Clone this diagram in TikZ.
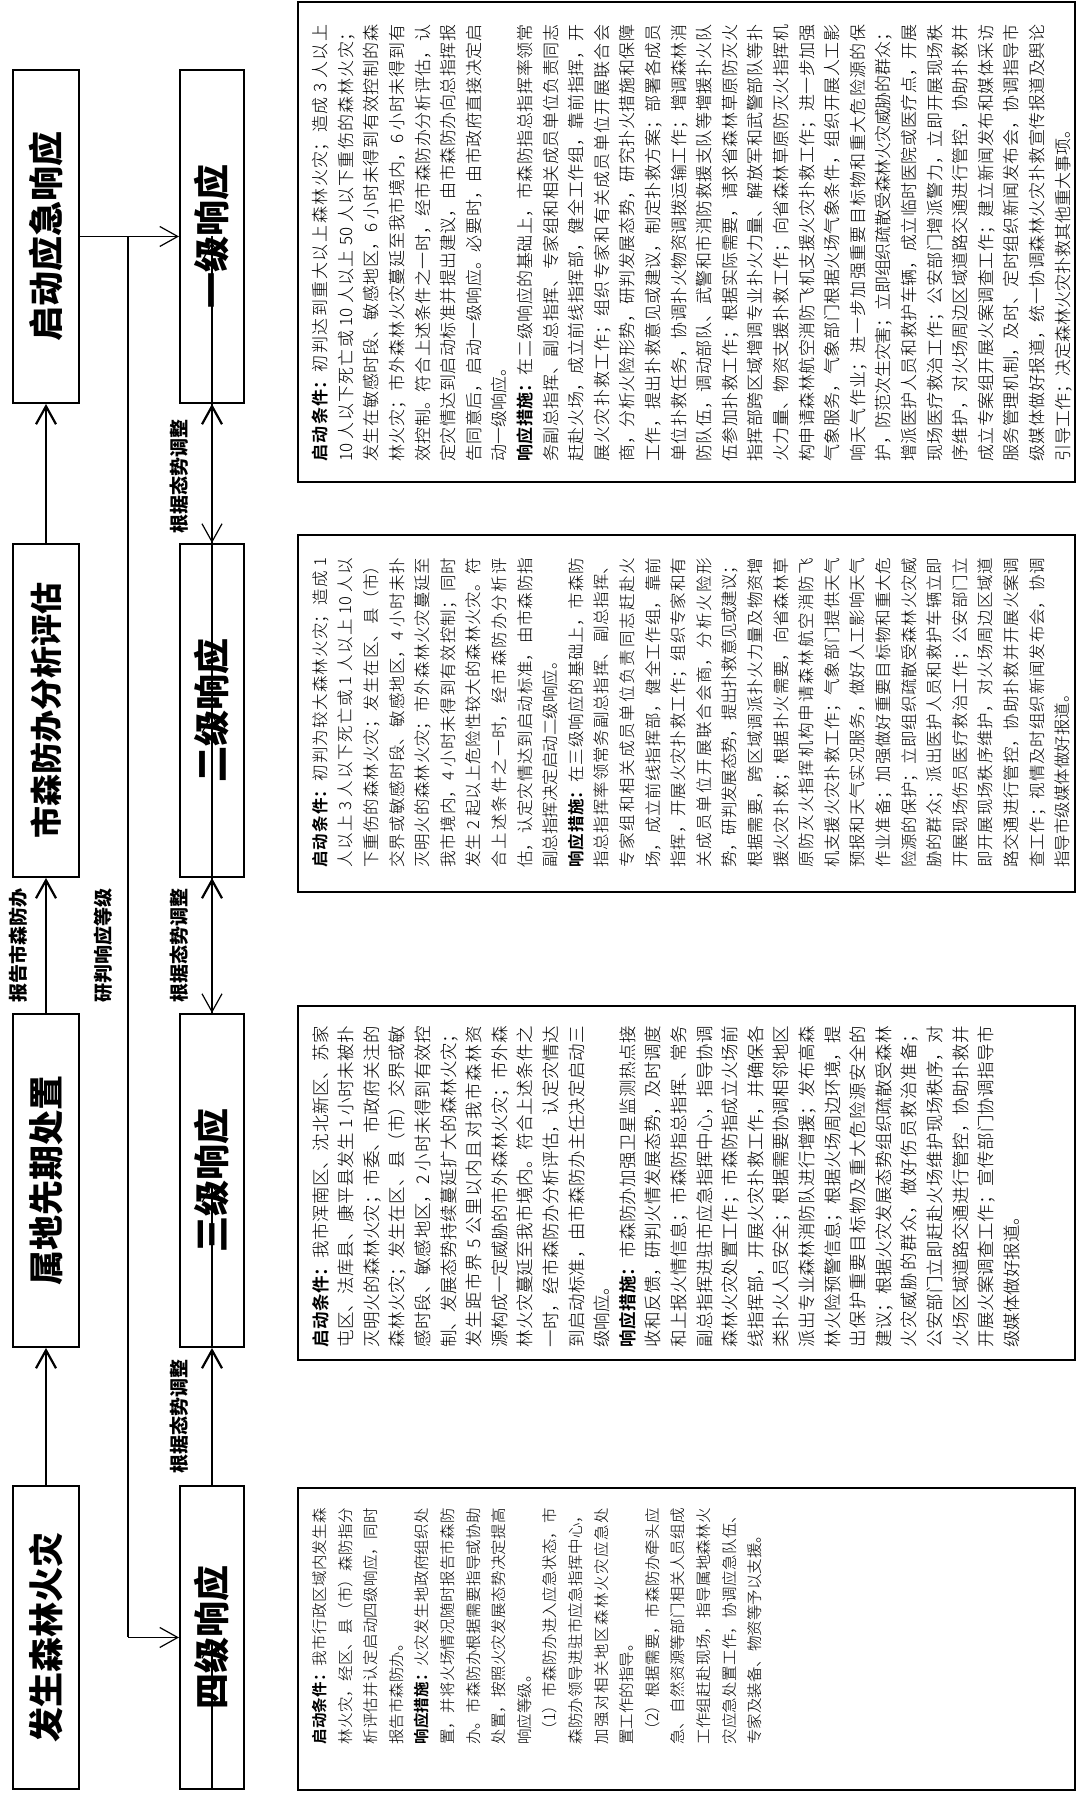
\documentclass[tikz,border=0pt]{standalone}
\usepackage{fontspec}
\usetikzlibrary{arrows.meta}
\setmainfont{Noto Sans CJK SC}
\newfontfamily\thincjk{Noto Sans CJK SC Light}[BoldFont={Noto Sans CJK SC Bold}]
\XeTeXlinebreaklocale "zh"
\XeTeXlinebreakskip=0pt plus 3pt minus 0.5pt
\setlength{\parindent}{0pt}

\begin{document}
\begin{tikzpicture}[x=1pt,y=-1pt,rotate=90,transform shape,
  stage/.style={draw,line width=2pt,inner sep=0pt,minimum width=333pt,minimum height=66pt,font=\fontsize{35}{40}\selectfont\bfseries},
  level/.style={draw,line width=2pt,inner sep=0pt,minimum width=333pt,minimum height=64pt,font=\fontsize{36}{44}\selectfont\bfseries},
  panel/.style={draw,line width=1.7pt,inner sep=0pt,minimum height=777pt},
  body/.style={anchor=north west,inner sep=0pt,align=justify},
  tag/.style={inner sep=0pt,font=\fontsize{19}{22}\selectfont\bfseries},
  flow/.style={line width=2.2pt,-{Straight Barb[length=18pt,width=20pt]}},
  feed/.style={line width=1.2pt,-{Straight Barb[length=18pt,width=20pt]}},
  bus/.style={line width=1.2pt}]
\path[use as bounding box,fill=white] (0,0) rectangle (1793,1077);
% process row
\node[stage,minimum width=303pt] (fire) at (155.5,46) {发生森林火灾};
\node[stage] (local) at (612.5,46) {属地先期处置};
\node[stage,font=\fontsize{32}{38}\selectfont\bfseries] (assess) at (1082.5,46) {市森防办分析评估};
\node[stage] (launch) at (1556.5,46) {启动应急响应};
\draw[flow] (fire) -- (local);
\draw[flow] (local) -- (assess);
\draw[flow] (assess) -- (launch);
\node[tag] (report) at (847,18) {报告市森防办};
\node[tag] (judge) at (847,103) {研判响应等级};
% response levels
\node[level,minimum width=303pt] (lvfour) at (155.5,212) {四级响应};
\node[level] (lvthree) at (612.5,212) {三级响应};
\node[level] (lvtwo) at (1082.5,212) {二级响应};
\node[level] (lvone) at (1556.5,212) {一级响应};
\coordinate (busR) at (1556.5,128);
\coordinate (busL) at (155.5,128);
\draw[feed] (launch) -- (lvone);
\draw[bus] (busR) -- (busL);
\draw[feed] (busR |- lvtwo) -- (lvtwo);
\draw[feed] (busR |- lvthree) -- (lvthree);
\draw[feed] (busL) -- (lvfour);
\draw[flow] (lvfour) -- (lvthree);
\draw[flow] (lvthree) -- (lvtwo);
\draw[flow] (lvtwo) -- (lvone);
\node[tag] (adjA) at (376.5,179) {根据态势调整};
\node[tag] (adjB) at (847.5,179) {根据态势调整};
\node[tag] (adjC) at (1316,179) {根据态势调整};
% detail panels
\node[panel,minimum width=302pt] (txtfour) at (154,686.5) {};
\node[panel,minimum width=354pt] (txtthree) at (610,686.5) {};
\node[panel,minimum width=357pt] (txttwo) at (1079.5,686.5) {};
\node[panel,minimum width=480pt] (txtone) at (1551,686.5) {};
\draw[feed] (lvfour) -- (txtfour.north |- lvfour);
\draw[feed] (lvthree) -- (txtthree.north |- lvthree);
\draw[feed] (lvtwo) -- (txttwo.north |- lvtwo);
\draw[feed] (lvone) -- (txtone.north |- lvone);
\node[body,text width=237pt,font=\thincjk\fontsize{15.5}{25.6}\selectfont] (bodyfour) at (48,312) {%
\textbf{启动条件：}我市行政区域内发生森\linebreak
林火灾，经区、县（市）森防指分\linebreak
析评估并认定启动四级响应，同时\linebreak
报告市森防办。\par
\textbf{响应措施：}火灾发生地政府组织处\linebreak
置，并将火场情况随时报告市森防\linebreak
办。市森防办根据需要指导或协助\linebreak
处置，按照火灾发展态势决定提高\linebreak
响应等级。\par
\hspace*{0.5em}（1）市森防办进入应急状态，市\linebreak
森防办领导进驻市应急指挥中心，\linebreak
加强对相关地区森林火灾应急处\linebreak
置工作的指导。\par
\hspace*{0.5em}（2）根据需要，市森防办牵头应\linebreak
急、自然资源等部门相关人员组成\linebreak
工作组赶赴现场，指导属地森林火\linebreak
灾应急处置工作，协调应急队伍、\linebreak
专家及装备、物资等予以支援。};
\node[body,text width=322pt,font=\thincjk\fontsize{17.5}{25.6}\selectfont] (bodythree) at (445,312) {%
\textbf{启动条件：}我市浑南区、沈北新区、苏家\linebreak
屯区、法库县、康平县发生 1 小时未被扑\linebreak
灭明火的森林火灾；市委、市政府关注的\linebreak
森林火灾；发生在区、县（市）交界或敏\linebreak
感时段、敏感地区，2 小时未得到有效控\linebreak
制、发展态势持续蔓延扩大的森林火灾；\linebreak
发生距市界 5 公里以内且对我市森林资\linebreak
源构成一定威胁的市外森林火灾；市外森\linebreak
林火灾蔓延至我市境内。符合上述条件之\linebreak
一时，经市森防办分析评估，认定灾情达\linebreak
到启动标准，由市森防办主任决定启动三\linebreak
级响应。\par
\textbf{响应措施：}市森防办加强卫星监测热点接\linebreak
收和反馈，研判火情发展态势，及时调度\linebreak
和上报火情信息；市森防指总指挥、常务\linebreak
副总指挥进驻市应急指挥中心，指导协调\linebreak
森林火灾处置工作；市森防指成立火场前\linebreak
线指挥部，开展火灾扑救工作，并确保各\linebreak
类扑火人员安全；根据需要协调相邻地区\linebreak
派出专业森林消防队进行增援；发布高森\linebreak
林火险预警信息；根据火场周边环境，提\linebreak
出保护重要目标物及重大危险源安全的\linebreak
建议；根据火灾发展态势组织疏散受森林\linebreak
火灾威胁的群众，做好伤员救治准备；\linebreak
公安部门立即赶赴火场维护现场秩序，对\linebreak
火场区域道路交通进行管控，协助扑救并\linebreak
开展火案调查工作；宣传部门协调指导市\linebreak
级媒体做好报道。};
\node[body,text width=310pt,font=\thincjk\fontsize{16.5}{25.6}\selectfont] (bodytwo) at (925,312) {%
\textbf{启动条件：}初判为较大森林火灾；造成 1\linebreak
人以上 3 人以下死亡或 1 人以上 10 人以\linebreak
下重伤的森林火灾；发生在区、县（市）\linebreak
交界或敏感时段、敏感地区，4 小时未扑\linebreak
灭明火的森林火灾；市外森林火灾蔓延至\linebreak
我市境内，4 小时未得到有效控制；同时\linebreak
发生 2 起以上危险性较大的森林火灾。符\linebreak
合上述条件之一时，经市森防办分析评\linebreak
估，认定灾情达到启动标准，由市森防指\linebreak
副总指挥决定启动二级响应。\par
\textbf{响应措施：}在三级响应的基础上，市森防\linebreak
指总指挥率领常务副总指挥、副总指挥、\linebreak
专家组和相关成员单位负责同志赶赴火\linebreak
场，成立前线指挥部，健全工作组，靠前\linebreak
指挥，开展火灾扑救工作；组织专家和有\linebreak
关成员单位开展联合会商，分析火险形\linebreak
势，研判发展态势，提出扑救意见或建议；\linebreak
根据需要，跨区域调派扑火力量及物资增\linebreak
援火灾扑救；根据扑火需要，向省森林草\linebreak
原防灭火指挥机构申请森林航空消防飞\linebreak
机支援火灾扑救工作；气象部门提供天气\linebreak
预报和天气实况服务，做好人工影响天气\linebreak
作业准备；加强做好重要目标物和重大危\linebreak
险源的保护；立即组织疏散受森林火灾威\linebreak
胁的群众；派出医护人员和救护车辆立即\linebreak
开展现场伤员医疗救治工作；公安部门立\linebreak
即开展现场秩序维护，对火场周边区域道\linebreak
路交通进行管控，协助扑救并开展火案调\linebreak
查工作；视情及时组织新闻发布会，协调\linebreak
指导市级媒体做好报道。};
\node[body,text width=437pt,font=\thincjk\fontsize{17}{25.6}\selectfont] (bodyone) at (1331,312) {%
\textbf{启动条件：}初判达到重大以上森林火灾；造成 3 人以上\linebreak
10 人以下死亡或 10 人以上 50 人以下重伤的森林火灾；\linebreak
发生在敏感时段、敏感地区，6 小时未得到有效控制的森\linebreak
林火灾；市外森林火灾蔓延至我市境内，6 小时未得到有\linebreak
效控制。符合上述条件之一时，经市森防办分析评估，认\linebreak
定灾情达到启动标准并提出建议，由市森防办向总指挥报\linebreak
告同意后，启动一级响应。必要时，由市政府直接决定启\linebreak
动一级响应。\par
\textbf{响应措施：}在二级响应的基础上，市森防指总指挥率领常\linebreak
务副总指挥、副总指挥、专家组和相关成员单位负责同志\linebreak
赶赴火场，成立前线指挥部，健全工作组，靠前指挥，开\linebreak
展火灾扑救工作；组织专家和有关成员单位开展联合会\linebreak
商，分析火险形势，研判发展态势，研究扑火措施和保障\linebreak
工作，提出扑救意见或建议，制定扑救方案；部署各成员\linebreak
单位扑救任务，协调扑火物资调拨运输工作；增调森林消\linebreak
防队伍，调动部队、武警和市消防救援支队等增援扑火队\linebreak
伍参加扑救工作；根据实际需要，请求省森林草原防灭火\linebreak
指挥部跨区域增调专业扑火力量、解放军和武警部队等扑\linebreak
火力量、物资支援扑救工作；向省森林草原防灭火指挥机\linebreak
构申请森林航空消防飞机支援火灾扑救工作；进一步加强\linebreak
气象服务，气象部门根据火场气象条件，组织开展人工影\linebreak
响天气作业；进一步加强重要目标物和重大危险源的保\linebreak
护，防范次生灾害；立即组织疏散受森林火灾威胁的群众；\linebreak
增派医护人员和救护车辆，成立临时医院或医疗点，开展\linebreak
现场医疗救治工作；公安部门增派警力，立即开展现场秩\linebreak
序维护，对火场周边区域道路交通进行管控，协助扑救并\linebreak
成立专案组开展火案调查工作；建立新闻发布和媒体采访\linebreak
服务管理机制，及时、定时组织新闻发布会，协调指导市\linebreak
级媒体做好报道，统一协调森林火灾扑救宣传报道及舆论\linebreak
引导工作；决定森林火灾扑救其他重大事项。};
\end{tikzpicture}
\end{document}
